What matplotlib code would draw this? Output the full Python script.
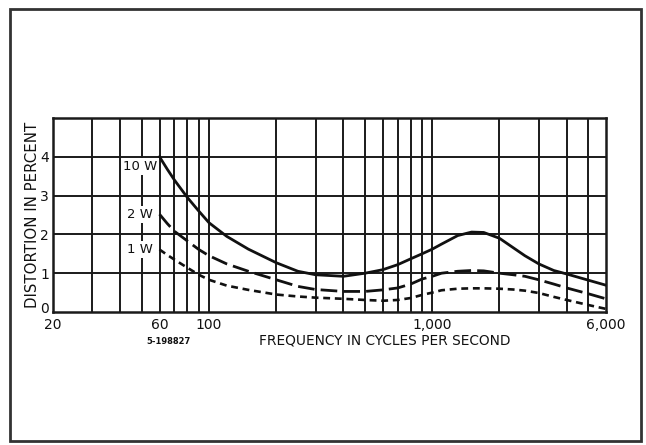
import matplotlib
matplotlib.use("Agg")
import matplotlib.pyplot as plt
from matplotlib.patches import Rectangle
from matplotlib.ticker import NullLocator
from matplotlib.transforms import ScaledTranslation

# ---- data ----
freqs = [60, 65, 70, 80, 90, 100, 120, 150, 200, 250, 300, 400, 500, 600, 700,
         800, 900, 1000, 1100, 1300, 1500, 1700, 2000, 2300, 2600, 3000, 3500,
         4000, 5000, 6000]
dist_10w = [4.0, 3.68, 3.4, 2.95, 2.6, 2.3, 1.95, 1.62, 1.27, 1.05, 0.96, 0.92,
            1.0, 1.09, 1.22, 1.37, 1.5, 1.62, 1.75, 1.97, 2.06, 2.05, 1.9, 1.66,
            1.45, 1.24, 1.07, 0.98, 0.82, 0.69]
dist_2w = [2.52, 2.28, 2.08, 1.83, 1.61, 1.45, 1.24, 1.05, 0.83, 0.66, 0.58,
           0.53, 0.53, 0.57, 0.62, 0.72, 0.85, 0.92, 1.0, 1.05, 1.07, 1.06, 1.0,
           0.96, 0.92, 0.83, 0.72, 0.62, 0.47, 0.34]
dist_1w = [1.61, 1.47, 1.35, 1.14, 0.96, 0.83, 0.68, 0.57, 0.45, 0.40, 0.37,
           0.34, 0.31, 0.29, 0.31, 0.36, 0.44, 0.50, 0.56, 0.60, 0.61, 0.61,
           0.60, 0.58, 0.55, 0.49, 0.39, 0.31, 0.18, 0.08]
series_labels = ["10 W", "2 W", "1 W"]
label_freq = 49
label_vals = [3.75, 2.52, 1.61]

x_grid = [30, 40, 50, 60, 70, 80, 90, 100, 200, 300, 400, 500, 600, 700,
          800, 900, 1000, 2000, 3000, 4000, 5000]
y_grid = [1, 2, 3, 4]
x_tick_vals = [20, 60, 100, 1000, 6000]
x_tick_labels = ["20", "60", "100", "1,000", "6,000"]
y_tick_vals = [0, 1, 2, 3, 4]
y_tick_labels = ["0", "1", "2", "3", "4"]
x_label = "FREQUENCY IN CYCLES PER SECOND"
y_label = "DISTORTION IN PERCENT"
fig_code = "5-198827"

plt.rcParams['font.family'] = ['DejaVu Sans']

fig = plt.figure(figsize=(6.46, 4.45), dpi=100)
fig.patch.set_facecolor("white")

# outer frame
fig.add_artist(Rectangle((10 / 646, 1 - 441 / 445), (641 - 10) / 646, (441 - 9) / 445,
                         transform=fig.transFigure, fill=False,
                         edgecolor="#333333", linewidth=2.0))

ax = fig.add_axes([53 / 646, 1 - 312 / 445, (606 - 53) / 646, (312 - 118) / 445])
ax.set_xscale("log")
ax.set_xlim(20, 6000)
ax.set_ylim(0, 5)

gcol = "#1a1a1a"
for xv in x_grid:
    ax.axvline(xv, color=gcol, lw=1.4, zorder=1)
for yv in y_grid:
    ax.axhline(yv, color=gcol, lw=1.4, zorder=1)
for s in ax.spines.values():
    s.set_linewidth(1.8)
    s.set_color(gcol)

ax.plot(freqs, dist_10w, color="#111111", lw=2.0, ls="-", zorder=3,
        solid_joinstyle="round")
ax.plot(freqs, dist_2w, color="#111111", lw=2.0, ls=(0, (6, 2.2)), zorder=3)
ax.plot(freqs, dist_1w, color="#111111", lw=1.9, ls=(0, (2.6, 1.8)), zorder=3)

for lab, v in zip(series_labels, label_vals):
    ax.text(label_freq, v, lab, ha="center", va="center", fontsize=9.5,
            color="#111111", zorder=4,
            bbox=dict(boxstyle="square,pad=0.15", fc="white", ec="none"))

ax.set_xticks(x_tick_vals)
ax.set_xticklabels(x_tick_labels)
ax.xaxis.set_minor_locator(NullLocator())
ax.set_yticks(y_tick_vals)
ax.set_yticklabels(y_tick_labels)
ax.tick_params(axis="both", length=0, labelsize=10, colors="#111111")
ax.tick_params(axis="x", pad=4)
ax.tick_params(axis="y", pad=3)

# lift the "0" label a little so it clears the "20" below it
lbl0 = ax.get_yticklabels()[0]
lbl0.set_transform(lbl0.get_transform() + ScaledTranslation(0, 3 / 72, fig.dpi_scale_trans))

fig.text(33 / 646, 1 - 215 / 445, y_label, rotation=90, ha="center", va="center",
         fontsize=10.8, color="#111111")
fig.text(385 / 646, 1 - 341 / 445, x_label, ha="center", va="center",
         fontsize=9.9, color="#111111")
fig.text(168 / 646, 1 - 341 / 445, fig_code, ha="center", va="center",
         fontsize=6, fontweight="bold", color="#111111")

fig.savefig("out.png", dpi=100, facecolor="white")
